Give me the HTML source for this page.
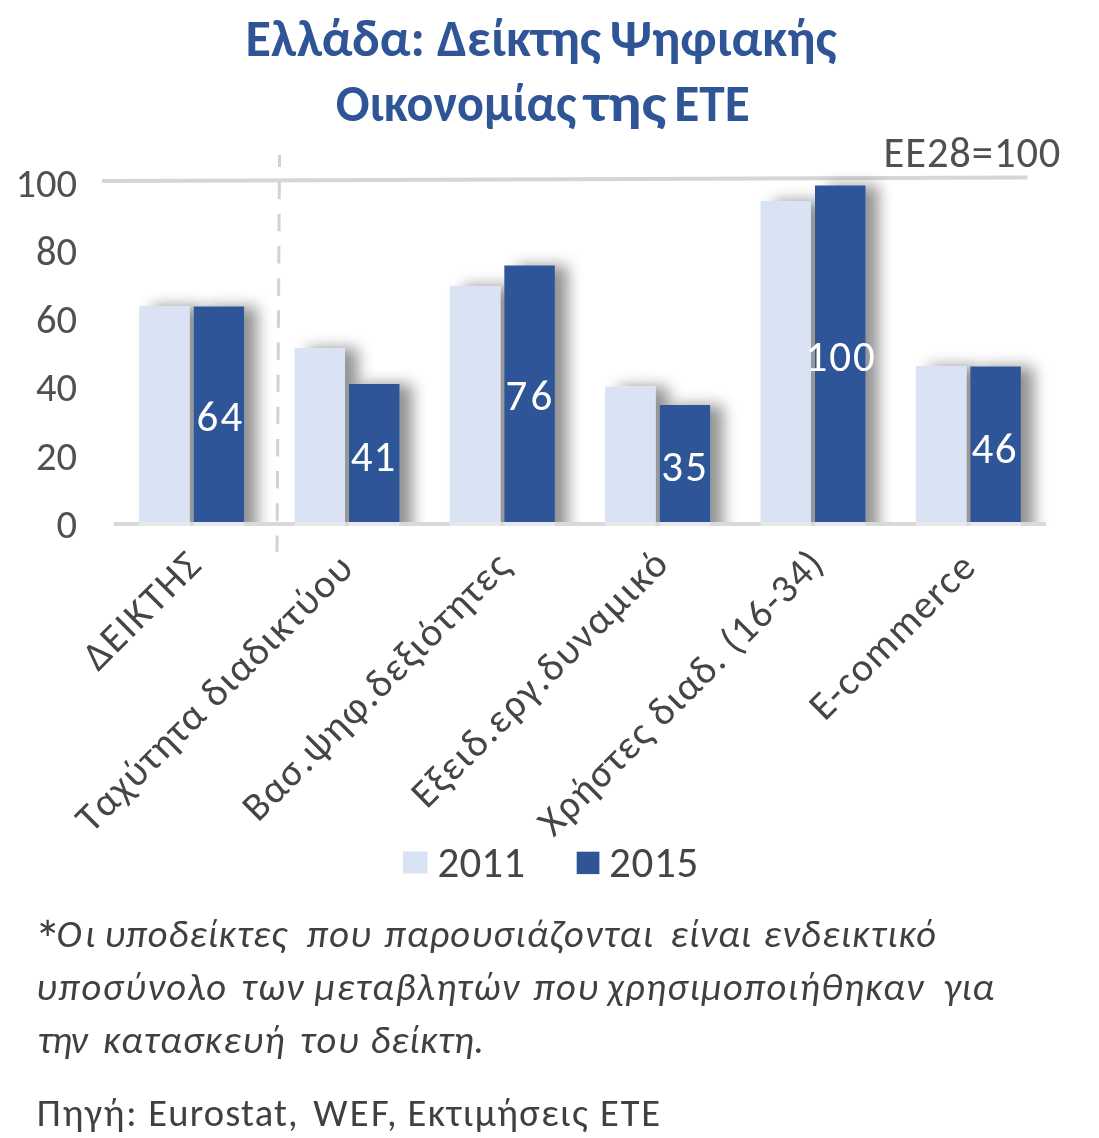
<!DOCTYPE html>
<html lang="el">
<head>
<meta charset="utf-8">
<title>Ελλάδα: Δείκτης Ψηφιακής Οικονομίας της ΕΤΕ</title>
<style>
  html, body { margin: 0; padding: 0; background: #ffffff; }
  body { width: 1099px; height: 1138px; overflow: hidden; }
  svg { display: block; filter: blur(0.6px); }
  text { font-family: Carlito, "Liberation Sans", "DejaVu Sans", sans-serif; white-space: pre; }
  .title { font-weight: bold; fill: #2F5597; font-size: 51.5px; }
  .ax { fill: #505050; font-size: 40.5px; }
  .ee { fill: #505050; font-size: 42.5px; }
  .cat { fill: #454545; font-size: 40px; }
  .dl { fill: #ffffff; font-size: 43px; }
  .leg { fill: #454545; font-size: 43px; }
  .note { fill: #404040; font-size: 38.5px; font-style: italic; }
  .src { fill: #404040; font-size: 38.5px; }
</style>
</head>
<body>
<svg width="1099" height="1138" viewBox="0 0 1099 1138">
  <defs>
    <filter id="sh" x="-60%" y="-20%" width="220%" height="140%">
      <feGaussianBlur in="SourceAlpha" stdDeviation="7.5"/>
      <feOffset dx="12.5" dy="0"/>
      <feComponentTransfer><feFuncA type="linear" slope="0.43"/></feComponentTransfer>
      <feColorMatrix type="matrix" values="0 0 0 0 0  0 0 0 0 0  0 0 0 0 0  0 0 0 1 0"/>
      <feMerge><feMergeNode/><feMergeNode in="SourceGraphic"/></feMerge>
    </filter>
    <clipPath id="pc"><rect x="0" y="0" width="1099" height="522"/></clipPath>
  </defs>
  <rect width="1099" height="1138" fill="#ffffff"/>

  <text class="title" x="245.6" y="56.4" textLength="179.32" lengthAdjust="spacingAndGlyphs">Ελλάδα:</text>
  <text class="title" x="437.0" y="56.4" textLength="163.95" lengthAdjust="spacingAndGlyphs">Δείκτης</text>
  <text class="title" x="610.0" y="56.4" textLength="226.67" lengthAdjust="spacingAndGlyphs">Ψηφιακής</text>
  <text class="title" x="335.7" y="120.6" textLength="240.72" lengthAdjust="spacingAndGlyphs">Οικονομίας</text>
  <text class="title" x="584.3" y="120.6" textLength="82.19" lengthAdjust="spacingAndGlyphs">της</text>
  <text class="title" x="674.2" y="120.6" textLength="75.55" lengthAdjust="spacingAndGlyphs">ΕΤΕ</text>
  <text class="ee" x="883.5" y="166.5" textLength="176.9" lengthAdjust="spacing">ΕΕ28=100</text>
  <line x1="102" y1="181" x2="1027.5" y2="177.5" stroke="#D6D6D6" stroke-width="4"/>
  <line x1="279.5" y1="155" x2="277" y2="552" stroke="#D2D2D2" stroke-width="3" stroke-dasharray="17.5 14.66" stroke-dashoffset="5.5"/>
  <g class="ax" text-anchor="end">
    <text x="77" y="196.7" textLength="61.6" lengthAdjust="spacing">100</text>
    <text x="77" y="264.9" textLength="41.1" lengthAdjust="spacing">80</text>
    <text x="77" y="333.1" textLength="41.1" lengthAdjust="spacing">60</text>
    <text x="77" y="401.3" textLength="41.1" lengthAdjust="spacing">40</text>
    <text x="77" y="469.5" textLength="41.1" lengthAdjust="spacing">20</text>
    <text x="77" y="537.7" textLength="20.5" lengthAdjust="spacing">0</text>
  </g>
  <g clip-path="url(#pc)"><g filter="url(#sh)">
    <rect x="139.17" y="306" width="50.5" height="239" fill="#DAE3F3"/>
    <rect x="193.67" y="306.5" width="50.5" height="238.5" fill="#2F5597"/>
    <rect x="294.5" y="348" width="50.5" height="197" fill="#DAE3F3"/>
    <rect x="349.0" y="384" width="50.5" height="161" fill="#2F5597"/>
    <rect x="449.83" y="286" width="50.5" height="259" fill="#DAE3F3"/>
    <rect x="504.33" y="265.5" width="50.5" height="279.5" fill="#2F5597"/>
    <rect x="605.17" y="386.5" width="50.5" height="158.5" fill="#DAE3F3"/>
    <rect x="659.67" y="405" width="50.5" height="140" fill="#2F5597"/>
    <rect x="760.5" y="201" width="50.5" height="344" fill="#DAE3F3"/>
    <rect x="815.0" y="185.5" width="50.5" height="359.5" fill="#2F5597"/>
    <rect x="915.83" y="366" width="50.5" height="179" fill="#DAE3F3"/>
    <rect x="970.33" y="366.5" width="50.5" height="178.5" fill="#2F5597"/>
  </g></g>
  <line x1="114" y1="524" x2="1046" y2="524" stroke="#D9D9D9" stroke-width="4"/>
  <rect x="139.17" y="522.0" width="50.5" height="4" fill="#E6E8EC"/>
  <rect x="193.67" y="522.0" width="50.5" height="4" fill="#E6E8EC"/>
  <rect x="294.5" y="522.0" width="50.5" height="4" fill="#E6E8EC"/>
  <rect x="349.0" y="522.0" width="50.5" height="4" fill="#E6E8EC"/>
  <rect x="449.83" y="522.0" width="50.5" height="4" fill="#E6E8EC"/>
  <rect x="504.33" y="522.0" width="50.5" height="4" fill="#E6E8EC"/>
  <rect x="605.17" y="522.0" width="50.5" height="4" fill="#E6E8EC"/>
  <rect x="659.67" y="522.0" width="50.5" height="4" fill="#E6E8EC"/>
  <rect x="760.5" y="522.0" width="50.5" height="4" fill="#E6E8EC"/>
  <rect x="815.0" y="522.0" width="50.5" height="4" fill="#E6E8EC"/>
  <rect x="915.83" y="522.0" width="50.5" height="4" fill="#E6E8EC"/>
  <rect x="970.33" y="522.0" width="50.5" height="4" fill="#E6E8EC"/>
  <g class="dl">
    <text x="196.4" y="430.8" textLength="45.9" lengthAdjust="spacing">64</text>
    <text x="350.8" y="471.4" textLength="44.4" lengthAdjust="spacing">41</text>
    <text x="505.6" y="410.4" textLength="46.8" lengthAdjust="spacing">76</text>
    <text x="661.2" y="480.7" textLength="45.8" lengthAdjust="spacing">35</text>
    <text x="805.6" y="370.9" textLength="69.1" lengthAdjust="spacing">100</text>
    <text x="971.6" y="462.5" textLength="44.9" lengthAdjust="spacing">46</text>
  </g>
  <g class="cat">
    <text transform="translate(98.30,672.00) rotate(-45)" textLength="147.9" lengthAdjust="spacing">ΔΕΙΚΤΗΣ</text>
    <text transform="translate(91.47,834.17) rotate(-45)" textLength="372.8" lengthAdjust="spacing">Ταχύτητα διαδικτύου</text>
    <text transform="translate(258.01,822.95) rotate(-45)" textLength="359.8" lengthAdjust="spacing">Βασ.ψηφ.δεξιότητες</text>
    <text transform="translate(426.63,809.67) rotate(-45)" textLength="344.1" lengthAdjust="spacing">Εξειδ.εργ.δυναμικό</text>
    <text transform="translate(553.57,838.07) rotate(-45)" textLength="384.7" lengthAdjust="spacing">Χρήστες διαδ. (16-34)</text>
    <text transform="translate(824.86,722.10) rotate(-45)" textLength="215.6" lengthAdjust="spacing">E-commerce</text>
  </g>
  <rect x="403" y="851.5" width="24.5" height="22" fill="#DAE3F3"/>
  <rect x="576.7" y="851.7" width="22.7" height="22.4" fill="#2F5597"/>
  <text class="leg" x="437.5" y="876.6" textLength="87.6" lengthAdjust="spacing">2011</text>
  <text class="leg" x="609.1" y="876.6" textLength="89.3" lengthAdjust="spacing">2015</text>
  <text class="note" x="34.5" y="958.0" style="font-size:53px;font-style:normal">*</text>
  <text class="note" x="56.5" y="947.4" textLength="38.8" lengthAdjust="spacing">Οι</text>
  <text class="note" x="104.2" y="947.4" textLength="182.7" lengthAdjust="spacing">υποδείκτες</text>
  <text class="note" x="306.8" y="947.4" textLength="64.0" lengthAdjust="spacing">που</text>
  <text class="note" x="384.6" y="947.4" textLength="268.5" lengthAdjust="spacing">παρουσιάζονται</text>
  <text class="note" x="670.2" y="947.4" textLength="81.0" lengthAdjust="spacing">είναι</text>
  <text class="note" x="763.5" y="947.4" textLength="172.4" lengthAdjust="spacing">ενδεικτικό</text>
  <text class="note" x="36.0" y="1000.2" textLength="190.1" lengthAdjust="spacing">υποσύνολο</text>
  <text class="note" x="241.4" y="1000.2" textLength="62.0" lengthAdjust="spacing">των</text>
  <text class="note" x="314.5" y="1000.2" textLength="204.5" lengthAdjust="spacing">μεταβλητών</text>
  <text class="note" x="533.4" y="1000.2" textLength="64.7" lengthAdjust="spacing">που</text>
  <text class="note" x="607.2" y="1000.2" textLength="316.1" lengthAdjust="spacing">χρησιμοποιήθηκαν</text>
  <text class="note" x="943.5" y="1000.2" textLength="50.6" lengthAdjust="spacing">για</text>
  <text class="note" x="37.7" y="1052.8" textLength="49.9" lengthAdjust="spacing">την</text>
  <text class="note" x="103.3" y="1052.8" textLength="181.3" lengthAdjust="spacing">κατασκευή</text>
  <text class="note" x="300.3" y="1052.8" textLength="58.3" lengthAdjust="spacing">του</text>
  <text class="note" x="370.3" y="1052.8" textLength="113.8" lengthAdjust="spacing">δείκτη.</text>
  <text class="src" x="36.8" y="1125.9" textLength="99.8" lengthAdjust="spacing">Πηγή:</text>
  <text class="src" x="148.2" y="1125.9" textLength="149.5" lengthAdjust="spacing">Eurostat,</text>
  <text class="src" x="313.3" y="1125.9" textLength="83.3" lengthAdjust="spacing">WEF,</text>
  <text class="src" x="407.5" y="1125.9" textLength="180.3" lengthAdjust="spacing">Εκτιμήσεις</text>
  <text class="src" x="600.0" y="1125.9" textLength="60.1" lengthAdjust="spacing">ΕΤΕ</text>
</svg>
</body>
</html>
